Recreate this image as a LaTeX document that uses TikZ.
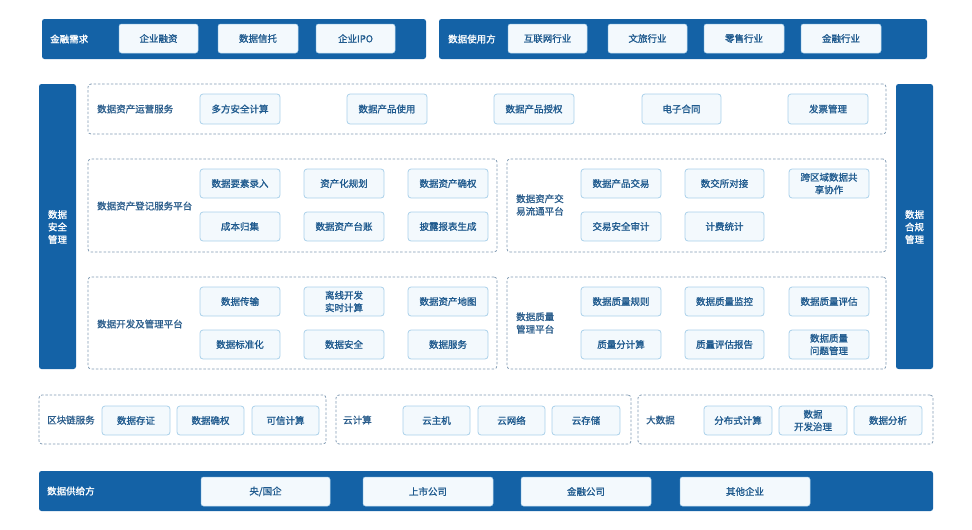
\documentclass[tikz,border=0pt]{standalone}
\usepackage{fontspec}
\setmainfont{Noto Sans CJK SC}[AutoFakeBold=1.2]
\definecolor{dkblue}{HTML}{1462A6}
\definecolor{boxfill}{HTML}{F3F9FD}
\definecolor{boxline}{HTML}{A9D0EA}
\definecolor{boxtext}{HTML}{1F5A8E}
\definecolor{dashline}{HTML}{7F99B2}
\definecolor{labtext}{HTML}{2C5E8C}
\tikzset{
  bar/.style={fill=dkblue, draw=none, rounded corners=2.5pt},
  wbox/.style={fill=boxfill, draw=boxline, line width=0.5pt, rounded corners=2.5pt, text=boxtext, inner sep=0pt, align=center},
  dbox/.style={draw=dashline, dashed, dash pattern=on 2.5pt off 1.8pt, line width=0.75pt, rounded corners=3pt, inner sep=0pt},
  ibox/.style={fill=boxfill, draw=boxline, line width=0.8pt, rounded corners=3pt, text=boxtext, inner sep=0pt, align=center},
  wlab/.style={text=white, anchor=west, inner sep=0pt, align=left},
  dlab/.style={text=labtext, anchor=west, inner sep=0pt, align=left},
  vlab/.style={text=white, inner sep=0pt, align=center},
}
\newcommand\bx[7]{\node[#6, minimum width={(#4-#2)*1pt}, minimum height={(#5-#3)*1pt}] (#1) at ({(#2+#4)/2},{(#3+#5)/2}) {#7};}
\begin{document}
\begin{tikzpicture}[x=1pt, y=-1pt, font=\fontsize{9.5pt}{12.5pt}\selectfont\bfseries]
\useasboundingbox (0,0) rectangle (972,530);
% top bars
\bx{topL}{42}{19}{426}{59}{bar}{}
\node[wlab] (topLlab) at (50,39) {金融需求};
\bx{t1}{119}{24}{198}{53}{wbox}{企业融资}
\bx{t2}{218}{24}{298}{53}{wbox}{数据信托}
\bx{t3}{316}{24}{395}{53}{wbox}{企业IPO}
\bx{topR}{439}{19}{927}{59}{bar}{}
\node[wlab] (topRlab) at (448,39) {数据使用方};
\bx{t4}{508}{24}{587}{53}{wbox}{互联网行业}
\bx{t5}{608}{24}{687}{53}{wbox}{文旅行业}
\bx{t6}{704}{24}{784}{53}{wbox}{零售行业}
\bx{t7}{801}{24}{881}{53}{wbox}{金融行业}
% side bars
\bx{sideL}{39}{84}{76}{369}{bar}{}
\node[vlab] (sideLlab) at (57.5,227) {数据\\安全\\管理};
\bx{sideR}{896}{84}{933}{369}{bar}{}
\node[vlab] (sideRlab) at (914.5,227) {数据\\合规\\管理};
% row 1
\bx{r1}{88}{84}{886}{134}{dbox}{}
\node[dlab] (r1lab) at (97,109) {数据资产运营服务};
\bx{r1a}{200}{94}{280}{124}{ibox}{多方安全计算}
\bx{r1b}{347}{94}{427}{124}{ibox}{数据产品使用}
\bx{r1c}{494}{94}{574}{124}{ibox}{数据产品授权}
\bx{r1d}{642}{94}{721}{124}{ibox}{电子合同}
\bx{r1e}{788}{94}{868}{124}{ibox}{发票管理}
% row 2 left
\bx{r2L}{88}{159}{497}{252}{dbox}{}
\node[dlab] (r2Llab) at (97,206) {数据资产登记服务平台};
\bx{r2a}{200}{169}{280}{198}{ibox}{数据要素录入}
\bx{r2b}{304}{169}{384}{198}{ibox}{资产化规划}
\bx{r2c}{408}{169}{488}{198}{ibox}{数据资产确权}
\bx{r2d}{200}{212}{280}{241}{ibox}{成本归集}
\bx{r2e}{304}{212}{384}{241}{ibox}{数据资产台账}
\bx{r2f}{408}{212}{488}{241}{ibox}{披露报表生成}
% row 2 right
\bx{r2R}{507}{159}{886}{252}{dbox}{}
\node[dlab] (r2Rlab) at (516,205) {数据资产交\\易流通平台};
\bx{r2g}{581}{169}{661}{198}{ibox}{数据产品交易}
\bx{r2h}{685}{169}{764}{198}{ibox}{数交所对接}
\bx{r2i}{789}{169}{869}{198}{ibox}{跨区域数据共\\享协作}
\bx{r2j}{581}{212}{661}{241}{ibox}{交易安全审计}
\bx{r2k}{685}{212}{764}{241}{ibox}{计费统计}
% row 3 left
\bx{r3L}{88}{277}{497}{369}{dbox}{}
\node[dlab] (r3Llab) at (97,324) {数据开发及管理平台};
\bx{r3a}{200}{287}{280}{316}{ibox}{数据传输}
\bx{r3b}{304}{287}{384}{316}{ibox}{离线开发\\实时计算}
\bx{r3c}{408}{287}{488}{316}{ibox}{数据资产地图}
\bx{r3d}{200}{330}{280}{359}{ibox}{数据标准化}
\bx{r3e}{304}{330}{384}{359}{ibox}{数据安全}
\bx{r3f}{408}{330}{488}{359}{ibox}{数据服务}
% row 3 right
\bx{r3R}{507}{277}{886}{369}{dbox}{}
\node[dlab] (r3Rlab) at (516,323) {数据质量\\管理平台};
\bx{r3g}{581}{287}{661}{316}{ibox}{数据质量规则}
\bx{r3h}{685}{287}{764}{316}{ibox}{数据质量监控}
\bx{r3i}{789}{287}{869}{316}{ibox}{数据质量评估}
\bx{r3j}{581}{330}{661}{359}{ibox}{质量分计算}
\bx{r3k}{685}{330}{764}{359}{ibox}{质量评估报告}
\bx{r3l}{789}{330}{869}{359}{ibox}{数据质量\\问题管理}
% row 4
\bx{r4a}{39}{395}{326}{444}{dbox}{}
\node[dlab] (r4alab) at (47,420) {区块链服务};
\bx{b1}{102}{406}{170}{435}{ibox}{数据存证}
\bx{b2}{177}{406}{244}{435}{ibox}{数据确权}
\bx{b3}{252}{406}{319}{435}{ibox}{可信计算}
\bx{r4b}{336}{395}{631}{444}{dbox}{}
\node[dlab] (r4blab) at (343,420) {云计算};
\bx{b4}{403}{406}{470}{435}{ibox}{云主机}
\bx{b5}{478}{406}{545}{435}{ibox}{云网络}
\bx{b6}{552}{406}{620}{435}{ibox}{云存储}
\bx{r4c}{638}{395}{933}{444}{dbox}{}
\node[dlab] (r4clab) at (646,420) {大数据};
\bx{b7}{704}{406}{772}{435}{ibox}{分布式计算}
\bx{b8}{779}{406}{847}{435}{ibox}{数据\\开发治理}
\bx{b9}{854}{406}{922}{435}{ibox}{数据分析}
% bottom bar
\bx{bot}{39}{471}{933}{511}{bar}{}
\node[wlab] (botlab) at (47,491) {数据供给方};
\bx{s1}{201}{477}{330}{506}{wbox}{央/国企}
\bx{s2}{363}{477}{493}{506}{wbox}{上市公司}
\bx{s3}{521}{477}{651}{506}{wbox}{金融公司}
\bx{s4}{680}{477}{810}{506}{wbox}{其他企业}
\end{tikzpicture}
\end{document}
